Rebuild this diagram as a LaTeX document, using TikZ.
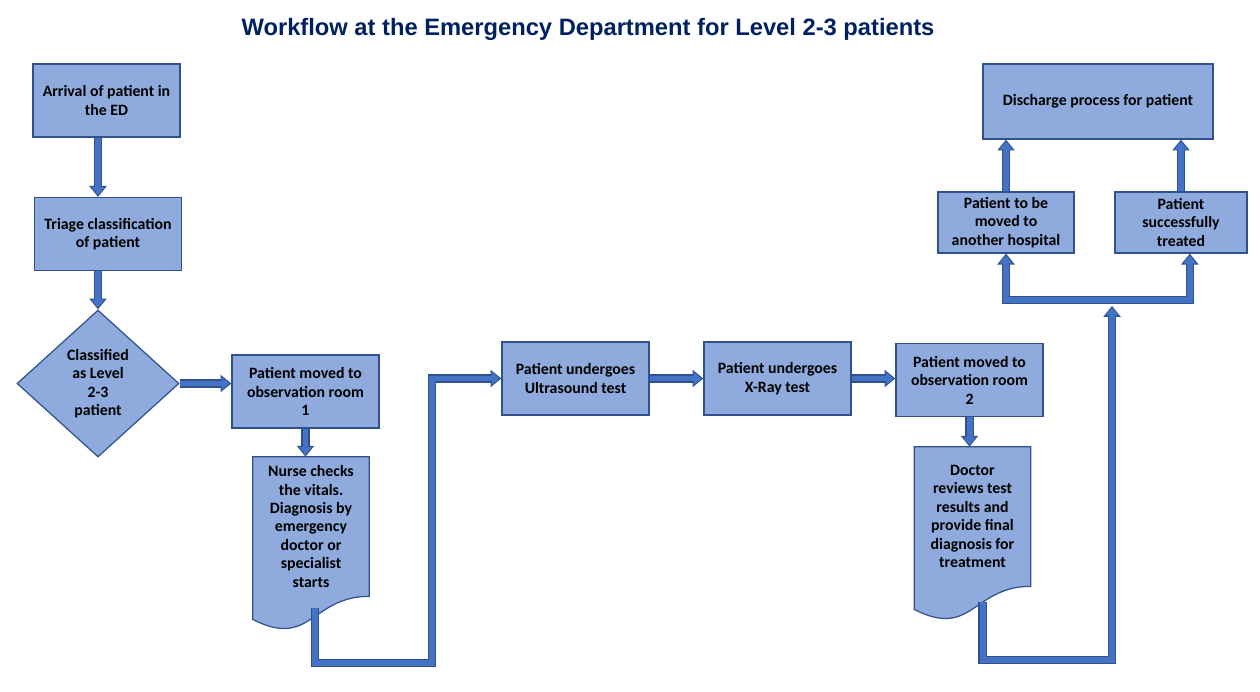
\documentclass[tikz,border=0pt]{standalone}
\usepackage{fontspec}
\setmainfont{Carlito}
\newfontfamily\titlefont{Liberation Sans}
\usetikzlibrary{arrows.meta,shapes.geometric,backgrounds}
\definecolor{boxfill}{HTML}{8FAADC}
\definecolor{boxedge}{HTML}{2F528F}
\definecolor{arrfill}{HTML}{4472C4}
\definecolor{arredge}{HTML}{2F528F}
\definecolor{titleblue}{HTML}{002060}
% wavy bottom of a document box, drawn from the node's anchors
\newcommand{\docwave}[1]{%
  \filldraw[fill=boxfill,draw=boxedge,line width=0.7pt] (#1.north west) -- (#1.north east) -- (#1.south east)
    .. controls +(-58,0) and +(58,30) .. ([shift={(0,23)}]#1.south west) -- cycle;}

\begin{document}
\begin{tikzpicture}[x=0.02cm,y=-0.02cm,font=\fontsize{9}{10.5}\selectfont\bfseries,
  box/.style={draw=boxedge,fill=boxfill,line width=0.7pt,align=center,inner sep=2pt,minimum width=2.94cm,minimum height=1.46cm},
  doc/.style={align=center,inner sep=0pt,minimum width=2.32cm,minimum height=2.78cm},
  flow/.style={draw=arrfill,line width=3.4pt,shorten >=1pt,-{Triangle[width=7pt,length=4.5pt]},
    preaction={draw=arredge,line width=4.8pt,shorten >=0pt,-{Triangle[width=9.6pt,length=6.2pt]}}}]
\useasboundingbox (0,0) rectangle (1260,692);
\node[font=\titlefont\fontsize{13.5}{16}\selectfont\bfseries,text=titleblue] (title) at (588,29) {Workflow at the Emergency Department for Level 2-3 patients};
\node[box] (arrive) at (106.5,100.5) {Arrival of patient in\\the ED};
\node[box] (triage) at (108,234) {Triage classification\\of patient};
\node[diamond,draw=boxedge,fill=boxfill,line width=0.7pt,align=center,inner sep=0pt,minimum width=3.24cm,minimum height=2.94cm] (dia) at (98,383.5) {Classified\\as Level\\2-3\\patient};
\node[box] (obs1) at (305.5,391.5) {Patient moved to\\observation room\\1};
\node[doc] (doc1) at (311,526.5) {Nurse checks\\the vitals.\\Diagnosis by\\emergency\\doctor or\\specialist\\starts};
\node[box] (us) at (575.5,378.5) {Patient undergoes\\Ultrasound test};
\node[box] (xray) at (777.5,378.5) {Patient undergoes\\X-Ray test};
\node[box] (obs2) at (969.5,380) {Patient moved to\\observation room\\2};
\node[doc] (doc2) at (972.5,516.5) {Doctor\\reviews test\\results and\\provide final\\diagnosis for\\treatment};
\node[box,minimum width=2.72cm,minimum height=1.22cm] (hosp) at (1006,222.5) {Patient to be\\moved to\\another hospital};
\node[box,minimum width=2.64cm,minimum height=1.22cm] (treated) at (1181,222.5) {Patient\\successfully\\treated};
\node[box,minimum width=4.6cm,minimum height=1.5cm] (disc) at (1098,101.5) {Discharge process for patient};
\begin{pgfonlayer}{background}
\docwave{doc1}
\docwave{doc2}
\end{pgfonlayer}
\coordinate (d1out) at ([shift={(4,12)}]doc1.south);
\coordinate (low1) at (432,663);
\coordinate (d2out) at ([shift={(10,16)}]doc2.south);
\coordinate (low2) at (1112,660);
\coordinate (fork) at (1112,300);
\draw[flow] (dia.north |- arrive.south) -- (dia.north |- triage.north);
\draw[flow] (dia.north |- triage.south) -- (dia.north);
\draw[flow] (dia.east) -- (dia.east -| obs1.west);
\draw[flow] (obs1.south) -- (obs1.south |- doc1.north);
\draw[flow] (d1out) |- (low1) |- (us.west);
\draw[flow] (us.east) -- (xray.west);
\draw[flow] (xray.east) -- (xray.east -| obs2.west);
\draw[flow] (obs2.south) -- (obs2.south |- doc2.north);
\draw[flow] (d2out) |- (low2) -- ([yshift=-3.4pt]fork);
\draw[flow] (fork) -| (hosp.south);
\draw[flow] (fork) -| ([xshift=5pt]treated.south);
\draw[flow] (hosp.north) -- (hosp.north |- disc.south);
\draw[flow] (treated.north) -- (treated.north |- disc.south);
\end{tikzpicture}
\end{document}
